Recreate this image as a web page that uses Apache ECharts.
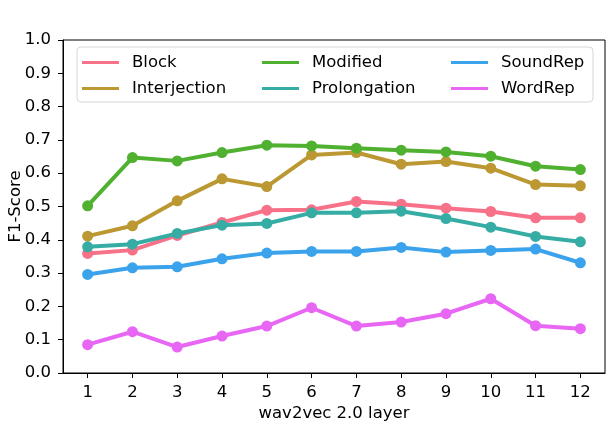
<!DOCTYPE html>
<html>
<head>
<meta charset="utf-8">
<script src="https://cdn.jsdelivr.net/npm/echarts@6/dist/echarts.min.js"></script>
<style>
    html, body {margin:0;padding:0;background:#ffffff;}
    #chart {width:608px;height:424px;}
</style>
</head>
<body>
<div id="chart"></div>
<script>
    // wav2vec 2.0 layers (x axis)
    var layers = [1, 2, 3, 4, 5, 6, 7, 8, 9, 10, 11, 12];
    var yTicks = [0, 0.1, 0.2, 0.3, 0.4, 0.5, 0.6, 0.7, 0.8, 0.9, 1.0];

    // F1-Score per stutter type
    var block        = [0.359, 0.369, 0.413, 0.452, 0.489, 0.490, 0.515, 0.507, 0.495, 0.485, 0.466, 0.466];
    var interjection = [0.411, 0.442, 0.517, 0.583, 0.560, 0.655, 0.662, 0.627, 0.635, 0.615, 0.566, 0.562];
    var modified     = [0.502, 0.647, 0.637, 0.662, 0.684, 0.682, 0.675, 0.669, 0.664, 0.651, 0.621, 0.611];
    var prolongation = [0.379, 0.387, 0.419, 0.444, 0.449, 0.481, 0.481, 0.486, 0.464, 0.438, 0.410, 0.394];
    var soundRep     = [0.296, 0.316, 0.319, 0.343, 0.360, 0.365, 0.365, 0.377, 0.363, 0.368, 0.372, 0.331];
    var wordRep      = [0.085, 0.124, 0.078, 0.111, 0.141, 0.196, 0.141, 0.153, 0.178, 0.223, 0.142, 0.133];

    var names  = ['Block', 'Interjection', 'Modified', 'Prolongation', 'SoundRep', 'WordRep'];
    var values = [block, interjection, modified, prolongation, soundRep, wordRep];
    var colors = ['#f77189', '#bb9832', '#50b131', '#36ada4', '#3ba3ec', '#e866f4'];

    var font = 'DejaVu Sans';
    var fs = 16.5;
    var chart = echarts.init(document.getElementById('chart'));

    var series = names.map(function (n, i) {
        return {
            name: n,
            type: 'line',
            data: layers.map(function (x, j) { return [x, values[i][j]]; }),
            symbol: 'circle',
            symbolSize: 11,
            color: colors[i],
            lineStyle: {width: 4, color: colors[i]},
            itemStyle: {color: colors[i]},
            emphasis: {disabled: true},
            animation: false,
            z: 2 + i * 0.01
        };
    });

    function legend(left, data) {
        return {
            left: left, top: 54, orient: 'vertical', padding: 0, itemGap: 9,
            itemWidth: 37, itemHeight: 3, icon: 'rect', z: 10,
            textStyle: {fontFamily: font, fontSize: fs, color: '#000', padding: [0, 0, 0, 8]},
            data: data
        };
    }

    chart.setOption({
        animation: false,
        grid: {left: 63, right: 3, top: 40, bottom: 51, show: true, borderColor: '#000', borderWidth: 1,
            containLabel: false, outerBoundsMode: 'none'},
        legend: [
            legend(82, ['Block', 'Interjection']),
            legend(262, ['Modified', 'Prolongation']),
            legend(451, ['SoundRep', 'WordRep'])
        ],
        graphic: [{
            type: 'rect', z: 9,
            shape: {x: 77, y: 47, width: 516, height: 55, r: 4},
            style: {fill: 'rgba(255,255,255,0.8)', stroke: '#d6d6d6', lineWidth: 1}
        }],
        xAxis: {
            type: 'value', min: 0.45, max: 12.55,
            name: 'wav2vec 2.0 layer', nameLocation: 'middle', nameGap: 32, nameMoveOverlap: false,
            nameTextStyle: {fontFamily: font, fontSize: fs, color: '#000'},
            axisLine: {show: true, lineStyle: {color: '#000', width: 1}},
            axisTick: {show: true, length: 5, lineStyle: {color: '#000'}, customValues: layers},
            axisLabel: {fontFamily: font, fontSize: fs, color: '#000', margin: 11, customValues: layers},
            splitLine: {show: false}
        },
        yAxis: {
            type: 'value', min: 0, max: 1, interval: 0.1,
            name: 'F1-Score', nameLocation: 'middle', nameGap: 39, nameMoveOverlap: false,
            nameTextStyle: {fontFamily: font, fontSize: fs, color: '#000'},
            axisLine: {show: true, lineStyle: {color: '#000', width: 1}},
            axisTick: {show: true, length: 5, lineStyle: {color: '#000'}, customValues: yTicks},
            axisLabel: {fontFamily: font, fontSize: fs, color: '#000', margin: 12, customValues: yTicks,
                formatter: function (v) { return v.toFixed(1); }},
            splitLine: {show: false}
        },
        series: series
    });
</script>
</body>
</html>
